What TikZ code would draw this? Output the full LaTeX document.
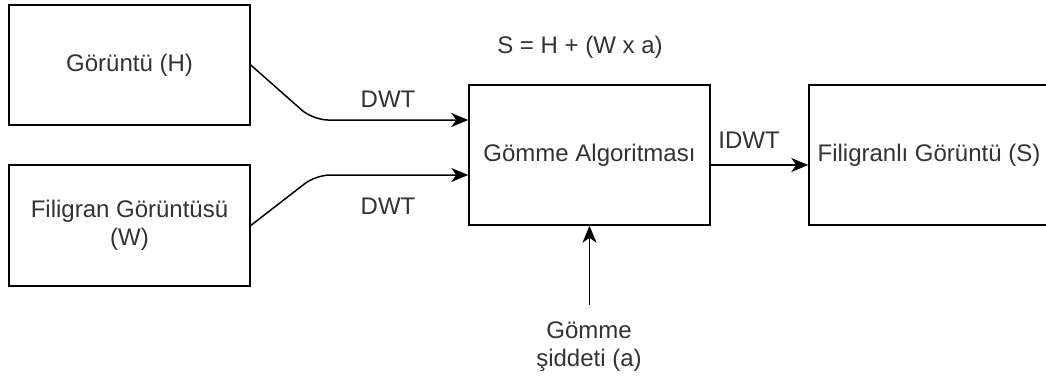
\documentclass[tikz,border=0pt]{standalone}
\usepackage{fontspec}
\setmainfont{Liberation Sans}
\usetikzlibrary{arrows.meta}
\definecolor{txt}{HTML}{333333}
\begin{document}
\begin{tikzpicture}[x=1pt,y=-1pt,
  lbl/.style={text=txt,font=\fontsize{24}{27.6}\selectfont,inner sep=0pt,align=center},
  blk/.style={draw=black,line width=1.5pt,fill=white,minimum width=241pt,text=txt,font=\fontsize{24}{27.6}\selectfont,align=center,inner sep=0pt},
  arr/.style={draw=black,line width=1.5pt,-{Stealth[length=17pt,width=14pt,inset=5pt]}}]
\useasboundingbox (0,0) rectangle (1046,380);
\clip (0,0) rectangle (1046,380);
\fill[white] (0,0) rectangle (1046,380);
\node[blk,minimum height=120pt] (b1) at (129.5,65) {Görüntü (H)};
\node[blk,minimum height=121pt] (b2) at (129.5,225.5) {Filigran Görüntüsü\\(W)};
\node[blk,minimum height=140pt] (b3) at (589.5,155) {Gömme Algoritması};
\node[blk,minimum height=140pt,minimum width=240pt] (b4) at (929,155) {Filigranlı Görüntü (S)};
\node[lbl] (f) at (580,47) {S = H + (W x a)};
\node[lbl] (d1) at (388,99) {DWT};
\node[lbl] (d2) at (388,206) {DWT};
\node[lbl] (id) at (749,140) {IDWT};
\node[lbl] (gs) at (589,346.5) {Gömme\\şiddeti (a)};
\coordinate (c1) at (313,120);
\coordinate (c2) at (316,175);
\coordinate (ci) at (760,165);
\coordinate (cv) at (589.5,305);
\draw[arr,rounded corners=15pt] (b1.east) -- (c1) -- (b3.west |- c1);
\draw[arr,rounded corners=14pt] (b2.east) -- (c2) -- (b3.west |- c2);
\draw[arr] (b3.east |- ci) -- (b4.west |- ci);
\draw[arr] (cv) -- (b3.south -| cv);
\end{tikzpicture}
\end{document}
